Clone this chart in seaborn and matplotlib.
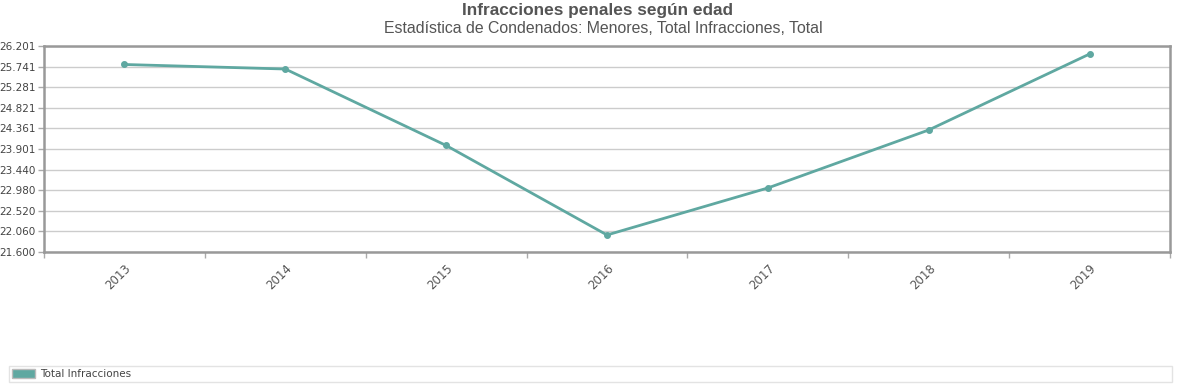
import matplotlib
matplotlib.use("Agg")
import matplotlib.pyplot as plt
from matplotlib.patches import Patch
from matplotlib.ticker import FixedLocator
import seaborn as sns
import pandas as pd

# datos
years = ["2013", "2014", "2015", "2016", "2017", "2018", "2019"]
infracciones = [25788, 25687, 23979, 21980, 23030, 24325, 26022]
y_ticks = [21600, 22060, 22520, 22980, 23440, 23901, 24361, 24821, 25281, 25741, 26201]
y_labels = ["21.600", "22.060", "22.520", "22.980", "23.440", "23.901",
            "24.361", "24.821", "25.281", "25.741", "26.201"]

color = "#5fa8a1"
gray = "#555555"

sns.set_theme(style="white")
plt.rcParams['font.family'] = ['DejaVu Sans']

df = pd.DataFrame({"Año": years, "Total Infracciones": infracciones})

fig = plt.figure(figsize=(11.81, 3.84), dpi=100)
ax = fig.add_axes([44 / 1181, 132 / 384, 1126 / 1181, 206 / 384])

sns.pointplot(data=df, x="Año", y="Total Infracciones", color=color,
              markers="o", markersize=3.5, linewidth=2, ax=ax)

ax.set_xlim(-0.5, len(years) - 0.5)
ax.set_ylim(y_ticks[0], y_ticks[-1])
ax.set_yticks(y_ticks)
ax.set_yticklabels(y_labels)
ax.set_xlabel("")
ax.set_ylabel("")

# marcas en los bordes de cada categoría
ax.xaxis.set_minor_locator(FixedLocator([i - 0.5 for i in range(len(years) + 1)]))
ax.tick_params(axis="x", which="major", length=0, pad=7, labelsize=8.5,
               labelcolor=gray, rotation=45)
ax.tick_params(axis="x", which="minor", length=4, color="#aaaaaa", width=1, bottom=True)
ax.tick_params(axis="y", length=4, color="#aaaaaa", width=1, left=True,
               labelsize=7.5, labelcolor="#444444", pad=2)
for lab in ax.get_xticklabels():
    lab.set_ha("right")
    lab.set_rotation_mode("anchor")

ax.grid(axis="y", color="#cccccc", linewidth=1)
ax.set_axisbelow(True)
for side in ax.spines.values():
    side.set_color("#999999")
    side.set_linewidth(1.8)

fig.text(597 / 1181, 0.972, "Infracciones penales según edad", ha="center", va="center",
         fontsize=12.4, fontweight="bold", color=gray, family="Liberation Sans")
fig.text(603 / 1181, 0.926, "Estadística de Condenados: Menores, Total Infracciones, Total",
         ha="center", va="center", fontsize=11.4, color=gray, family="Liberation Sans")

handle = Patch(facecolor=color, edgecolor="#bbbbbb", label="Total Infracciones")
leg = fig.legend(handles=[handle], loc="lower left",
                 bbox_to_anchor=(9 / 1181, 2 / 384, 1163 / 1181, 18 / 384),
                 mode="expand", fontsize=7.5, frameon=True, fancybox=False,
                 borderpad=0.3, handlelength=2.2, handleheight=1.0,
                 handletextpad=0.5, borderaxespad=0)
leg.get_frame().set_edgecolor("#dddddd")
leg.get_frame().set_linewidth(1)
for t in leg.get_texts():
    t.set_color("#444444")

fig.savefig("out.png", dpi=100, facecolor="white")
